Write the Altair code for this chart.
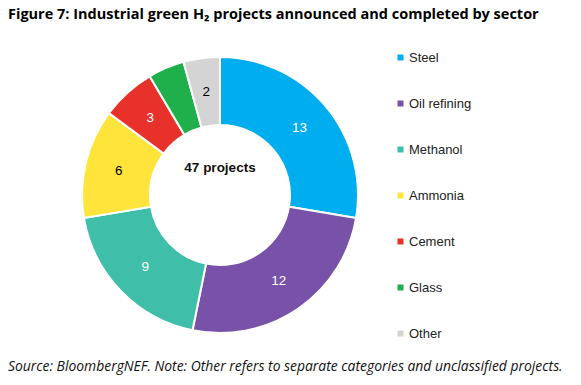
import altair as alt
import pandas as pd

sectors = ["Steel", "Oil refining", "Methanol", "Ammonia", "Cement", "Glass", "Other"]
counts = [13, 12, 9, 6, 3, 2, 2]
labels = ["13", "12", "9", "6", "3", "", "2"]
colors = ["#00ADEE", "#7851A9", "#3FBFAA", "#FFE53B", "#E8312A", "#1FB04C", "#D4D4D4"]
label_colors = ["white", "white", "white", "black", "white", "white", "black"]

df = pd.DataFrame({
    "sector": sectors,
    "count": counts,
    "label": labels,
    "lcolor": label_colors,
    "idx": list(range(len(sectors))),
})

CX, CY = 212, 187

base = alt.Chart(df).encode(
    theta=alt.Theta("count:Q", stack=True),
    order=alt.Order("idx:Q"),
)

arcs = base.mark_arc(innerRadius=70, outerRadius=138, stroke="white", strokeWidth=2).encode(
    x=alt.value(CX),
    y=alt.value(CY),
    color=alt.Color(
        "sector:N",
        scale=alt.Scale(domain=sectors, range=colors),
        sort=sectors,
        legend=alt.Legend(
            title=None,
            orient="none",
            legendX=386,
            legendY=43,
            symbolType="square",
            symbolSize=36,
            symbolStrokeWidth=0,
            labelFont="Liberation Sans",
            labelFontSize=13,
            labelColor="#222222",
            rowPadding=32,
            labelOffset=2,
        ),
    ),
)

text = base.mark_text(radius=104, font="Liberation Sans", fontSize=13.5).encode(
    x=alt.value(CX),
    y=alt.value(CY),
    text="label:N",
    color=alt.Color("lcolor:N", scale=None),
)

annot = pd.DataFrame({
    "t": ["47 projects"],
})
center = alt.Chart(annot).mark_text(
    font="Liberation Sans", fontSize=13.5, fontWeight="bold", color="#111111"
).encode(x=alt.value(CX), y=alt.value(160), text="t:N")

title_df = pd.DataFrame({"t": ["Figure 7: Industrial green H\u2082 projects announced and completed by sector"]})
title = alt.Chart(title_df).mark_text(
    font="Open Sans", fontSize=14.5, fontWeight="bold", color="#000000", align="left", baseline="top"
).encode(x=alt.value(0), y=alt.value(0), text="t:N")

foot_df = pd.DataFrame({"t": ["Source: BloombergNEF. Note: Other refers to separate categories and unclassified projects."]})
foot = alt.Chart(foot_df).mark_text(
    font="Open Sans", fontSize=13.9, fontStyle="italic", color="#111111", align="left", baseline="middle"
).encode(x=alt.value(0), y=alt.value(359), text="t:N")

chart = alt.layer(arcs, text, center, title, foot).properties(
    width=565, height=369, autosize=alt.AutoSizeParams(type="none"), padding=0
).configure_view(stroke=None)

chart.save("out.html", embed_options={"renderer": "svg", "actions": False})
